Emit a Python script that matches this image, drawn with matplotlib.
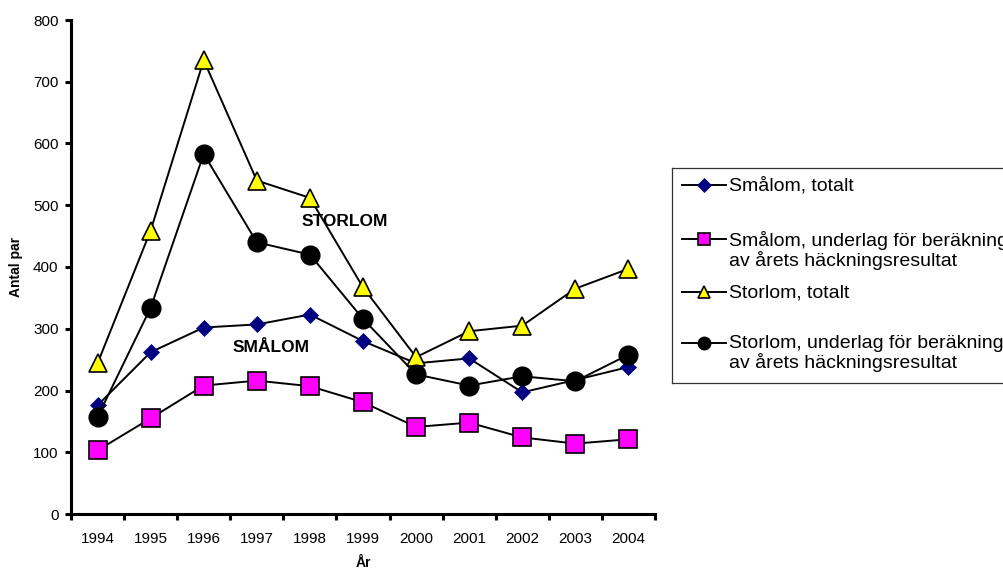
import numpy as np
import matplotlib
matplotlib.use('Agg')
import matplotlib.pyplot as plt
from matplotlib.ticker import FixedLocator

plt.rcParams['font.family'] = ['Liberation Sans', 'DejaVu Sans']

years = ['1994', '1995', '1996', '1997', '1998', '1999',
         '2000', '2001', '2002', '2003', '2004']
smalom_totalt = [176, 262, 302, 307, 323, 280, 244, 252, 197, 217, 238]
smalom_underlag = [103, 155, 208, 216, 207, 181, 141, 148, 124, 114, 121]
storlom_totalt = [244, 459, 735, 540, 512, 367, 254, 296, 305, 365, 397]
storlom_underlag = [157, 334, 583, 440, 420, 316, 226, 208, 223, 215, 258]

labels = ['Smålom, totalt',
          'Smålom, underlag för beräkning\nav årets häckningsresultat',
          'Storlom, totalt',
          'Storlom, underlag för beräkning\nav årets häckningsresultat']

W, H = 1004, 572
fig = plt.figure(figsize=(W / 100, H / 100), dpi=100)
ax = fig.add_axes([71 / W, 1 - 514 / H, (655 - 71) / W, (514 - 20) / H])

x = np.arange(len(years))
styles = [
    dict(marker='D', ms=8.5, mfc='#000080', mec='#000080', mew=0.5),
    dict(marker='s', ms=13, mfc='#FF00FF', mec='black', mew=1.2),
    dict(marker='^', ms=13.5, mfc='#FFFF00', mec='black', mew=1.2),
    dict(marker='o', ms=13.5, mfc='black', mec='black', mew=1),
]
series = [smalom_totalt, smalom_underlag, storlom_totalt, storlom_underlag]
for i, (vals, st) in enumerate(zip(series, styles)):
    ax.plot(x, vals, color='black', lw=1.4, zorder=2 + i, clip_on=False, **st)

ax.set_xlim(-0.5, len(years) - 0.5)
ax.set_ylim(0, 800)
ax.set_yticks(np.arange(0, 801, 100))
ax.set_xticks(x)
ax.set_xticklabels(years)
ax.xaxis.set_minor_locator(FixedLocator(np.arange(-0.5, len(years), 1.0)))
ax.tick_params(axis='x', which='major', length=0, pad=13, labelsize=11)
ax.tick_params(axis='x', which='minor', direction='out', length=4, width=2.2)
ax.tick_params(axis='y', direction='out', length=4, width=2.2, pad=5, labelsize=11)

ax.spines['top'].set_visible(False)
ax.spines['right'].set_visible(False)
ax.spines['left'].set_linewidth(2.2)
ax.spines['bottom'].set_linewidth(2.2)

ax.set_xlabel('År', fontsize=10, fontweight='bold', labelpad=7)
ax.set_ylabel('Antal par', fontsize=10, fontweight='bold', labelpad=7)

ax.text(4.65, 473, 'STORLOM', fontsize=12.5, fontweight='bold',
        ha='center', va='center', zorder=10)
ax.text(3.27, 270, 'SMÅLOM', fontsize=12.5, fontweight='bold',
        ha='center', va='center', zorder=10)

# legend box drawn in pixel units
lax = fig.add_axes([672 / W, 1 - 383 / H, (1040 - 672) / W, (383 - 168) / H])
lax.set_xlim(672, 1040)
lax.set_ylim(383, 168)
lax.set_xticks([])
lax.set_yticks([])
for s in lax.spines.values():
    s.set_linewidth(0.9)
    s.set_color('#333333')
lax.patch.set_facecolor('white')

entry_y = [185, 239, 292, 343]
leg_ms = [7, 8, 9, 9]
for y, lab, st, ms in zip(entry_y, labels, styles, leg_ms):
    lax.plot([682, 726], [y, y], color='black', lw=1.4)
    st = dict(st)
    st['ms'] = ms
    lax.plot([704], [y], color='black', **st)
    lax.text(729, y - 8, lab, fontsize=14, ha='left', va='top',
             linespacing=1.08)

fig.savefig('out.png', dpi=100)
